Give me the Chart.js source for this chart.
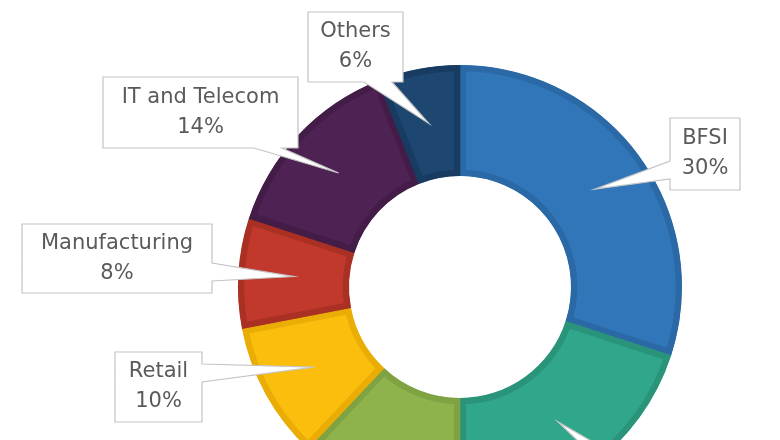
<!DOCTYPE html>
<html>
<head>
<meta charset="utf-8">
<script src="https://cdn.jsdelivr.net/npm/chart.js@4/dist/chart.umd.min.js"></script>
<style>
    html, body { margin: 0; padding: 0; background: #fff; overflow: hidden; }
    #wrap { position: relative; width: 780px; height: 580px; }
</style>
</head>
<body>
<div id="wrap"><canvas id="sectorChart"></canvas></div>
<script>
const sectors = ["BFSI", "Healthcare", "Government", "Retail", "Manufacturing", "IT and Telecom", "Others"];
const shares = [30, 20, 12, 10, 8, 14, 6];
const fills = ["#3176b9", "#30a68b", "#8eb24c", "#fbbe0c", "#c0392c", "#4e2252", "#1d4670"];
const edges = ["#2a68a6", "#2a947b", "#7fa342", "#e9ad05", "#ab3024", "#431c47", "#183c61"];

// callout boxes: left, top, width, height, side the pointer leaves from, base centre
const callouts = [
    { x: 670, y: 118, w: 70, h: 72, side: "left", at: 170 },
    { x: 605, y: 445, w: 130, h: 70, side: "left", at: 458 },
    { x: 300, y: 480, w: 130, h: 70, side: "top", at: 390 },
    { x: 115, y: 352, w: 87, h: 70, side: "right", at: 373 },
    { x: 22, y: 224, w: 190, h: 69, side: "right", at: 272 },
    { x: 103, y: 77, w: 195, h: 71, side: "bottom", at: 268 },
    { x: 308, y: 12, w: 95, h: 70, side: "bottom", at: 378 }
];

const calloutPlugin = {
    id: "callouts",
    afterDatasetsDraw(chart) {
        const ctx = chart.ctx;
        const arcs = chart.getDatasetMeta(0).data;
        arcs.forEach((arc, i) => {
            const b = callouts[i];
            const tip = arc.tooltipPosition();
            const half = b.side === "bottom" || b.side === "top" ? 14 : 9;
            ctx.save();
            ctx.beginPath();
            const L = b.x, T = b.y, R = b.x + b.w, B = b.y + b.h;
            ctx.moveTo(L, T);
            if (b.side === "top") {
                ctx.lineTo(b.at - half, T); ctx.lineTo(tip.x, tip.y); ctx.lineTo(b.at + half, T);
            }
            ctx.lineTo(R, T);
            if (b.side === "right") {
                ctx.lineTo(R, b.at - half); ctx.lineTo(tip.x, tip.y); ctx.lineTo(R, b.at + half);
            }
            ctx.lineTo(R, B);
            if (b.side === "bottom") {
                ctx.lineTo(b.at + half, B); ctx.lineTo(tip.x, tip.y); ctx.lineTo(b.at - half, B);
            }
            ctx.lineTo(L, B);
            if (b.side === "left") {
                ctx.lineTo(L, b.at + half); ctx.lineTo(tip.x, tip.y); ctx.lineTo(L, b.at - half);
            }
            ctx.closePath();
            ctx.fillStyle = "#ffffff";
            ctx.fill();
            ctx.lineWidth = 1.2;
            ctx.strokeStyle = "#c4c4c4";
            ctx.stroke();

            ctx.fillStyle = "#5a5a5a";
            ctx.font = "21px 'DejaVu Sans'";
            ctx.textAlign = "center";
            ctx.textBaseline = "middle";
            const cx = b.x + b.w / 2, cy = b.y + b.h / 2;
            ctx.fillText(sectors[i], cx, cy - 15);
            ctx.fillText(shares[i] + "%", cx, cy + 15);
            ctx.restore();
        });
    }
};

const ctx = document.getElementById("sectorChart").getContext("2d");
new Chart(ctx, {
    type: "doughnut",
    data: {
        labels: sectors,
        datasets: [{
            data: shares,
            backgroundColor: fills,
            borderColor: edges,
            borderWidth: 6,
            borderAlign: "inner"
        }]
    },
    options: {
        responsive: true,
        maintainAspectRatio: false,
        animation: false,
        cutout: "50%",
        layout: {
            padding: { left: 238, right: 98, top: 65, bottom: 71 }
        },
        plugins: {
            legend: { display: false },
            tooltip: { enabled: false }
        }
    },
    plugins: [calloutPlugin]
});
</script>
</body>
</html>
